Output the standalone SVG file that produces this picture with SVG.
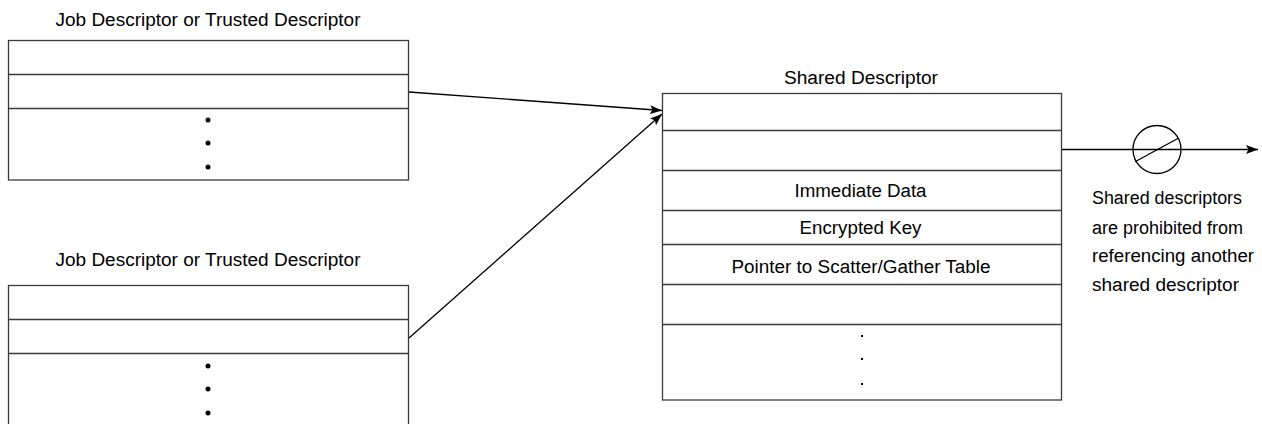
<svg xmlns="http://www.w3.org/2000/svg" width="1262" height="424" viewBox="0 0 1262 424">
  <defs>
    <style>
      .box { fill: #ffffff; stroke: #3a3a3a; stroke-width: 1.3; }
      .row { stroke: #3a3a3a; stroke-width: 1.3; }
      .lbl { font-family: "Liberation Sans", Arial, sans-serif; font-size: 18px; fill: #000000; }
      .mid { text-anchor: middle; }
      .conn { stroke: #000000; stroke-width: 1.3; fill: none; }
      .dot { fill: #000000; }
    </style>
    <marker id="arrow" markerUnits="userSpaceOnUse" markerWidth="14" markerHeight="10" refX="12" refY="4.5" orient="auto">
      <path d="M0,0 L12,4.5 L0,9 L2.5,4.5 z" fill="#000000"/>
    </marker>
  </defs>

  <rect width="1262" height="424" fill="#ffffff"/>

  <!-- upper job / trusted descriptor -->
  <g id="job-descriptor-1">
    <text class="lbl mid" x="208" y="26" textLength="305" lengthAdjust="spacingAndGlyphs">Job Descriptor or Trusted Descriptor</text>
    <rect class="box" x="8.5" y="40.5" width="400" height="139.5"/>
    <line class="row" x1="8.5" y1="74.5" x2="408.5" y2="74.5"/>
    <line class="row" x1="8.5" y1="108.5" x2="408.5" y2="108.5"/>
    <circle class="dot" cx="208" cy="120" r="2.5"/>
    <circle class="dot" cx="208" cy="143" r="2.5"/>
    <circle class="dot" cx="208" cy="167" r="2.5"/>
  </g>

  <!-- lower job / trusted descriptor (runs past the bottom edge) -->
  <g id="job-descriptor-2">
    <text class="lbl mid" x="208" y="266" textLength="305" lengthAdjust="spacingAndGlyphs">Job Descriptor or Trusted Descriptor</text>
    <rect class="box" x="8.5" y="285.5" width="400" height="145"/>
    <line class="row" x1="8.5" y1="319.5" x2="408.5" y2="319.5"/>
    <line class="row" x1="8.5" y1="353.5" x2="408.5" y2="353.5"/>
    <circle class="dot" cx="208" cy="366" r="2.5"/>
    <circle class="dot" cx="208" cy="389" r="2.5"/>
    <circle class="dot" cx="208" cy="413" r="2.5"/>
  </g>

  <!-- shared descriptor -->
  <g id="shared-descriptor">
    <text class="lbl mid" x="861" y="84" textLength="154" lengthAdjust="spacingAndGlyphs">Shared Descriptor</text>
    <rect class="box" x="662.5" y="93.5" width="399" height="306.5"/>
    <line class="row" x1="662.5" y1="130.5" x2="1061.5" y2="130.5"/>
    <line class="row" x1="662.5" y1="170.5" x2="1061.5" y2="170.5"/>
    <line class="row" x1="662.5" y1="210.5" x2="1061.5" y2="210.5"/>
    <line class="row" x1="662.5" y1="244.5" x2="1061.5" y2="244.5"/>
    <line class="row" x1="662.5" y1="284.5" x2="1061.5" y2="284.5"/>
    <line class="row" x1="662.5" y1="324.5" x2="1061.5" y2="324.5"/>
    <text class="lbl mid" x="860.5" y="197" textLength="132" lengthAdjust="spacingAndGlyphs">Immediate Data</text>
    <text class="lbl mid" x="860.5" y="234" textLength="122" lengthAdjust="spacingAndGlyphs">Encrypted Key</text>
    <text class="lbl mid" x="861" y="273" textLength="259" lengthAdjust="spacingAndGlyphs">Pointer to Scatter/Gather Table</text>
    <rect class="dot" x="861" y="335" width="2" height="2"/>
    <rect class="dot" x="861" y="358" width="2" height="2"/>
    <rect class="dot" x="861" y="383" width="2" height="2"/>
  </g>

  <!-- prohibited reference note -->
  <g id="prohibited-note">
    <circle cx="1157" cy="149.5" r="24" fill="none" stroke="#000000" stroke-width="1.3"/>
    <line x1="1135" y1="161.7" x2="1178.3" y2="138.3" stroke="#000000" stroke-width="1.3"/>
    <text class="lbl" x="1092" y="204" textLength="150" lengthAdjust="spacingAndGlyphs">Shared descriptors</text>
    <text class="lbl" x="1092" y="234" textLength="151" lengthAdjust="spacingAndGlyphs">are prohibited from</text>
    <text class="lbl" x="1092" y="262" textLength="162" lengthAdjust="spacingAndGlyphs">referencing another</text>
    <text class="lbl" x="1092" y="291" textLength="147" lengthAdjust="spacingAndGlyphs">shared descriptor</text>
  </g>

  <!-- connectors -->
  <g id="connectors">
    <line class="conn" x1="409" y1="92" x2="662" y2="110.5" marker-end="url(#arrow)"/>
    <line class="conn" x1="409" y1="338" x2="662" y2="114" marker-end="url(#arrow)"/>
    <line class="conn" x1="1062" y1="149.5" x2="1258" y2="149.5" marker-end="url(#arrow)"/>
  </g>
</svg>
